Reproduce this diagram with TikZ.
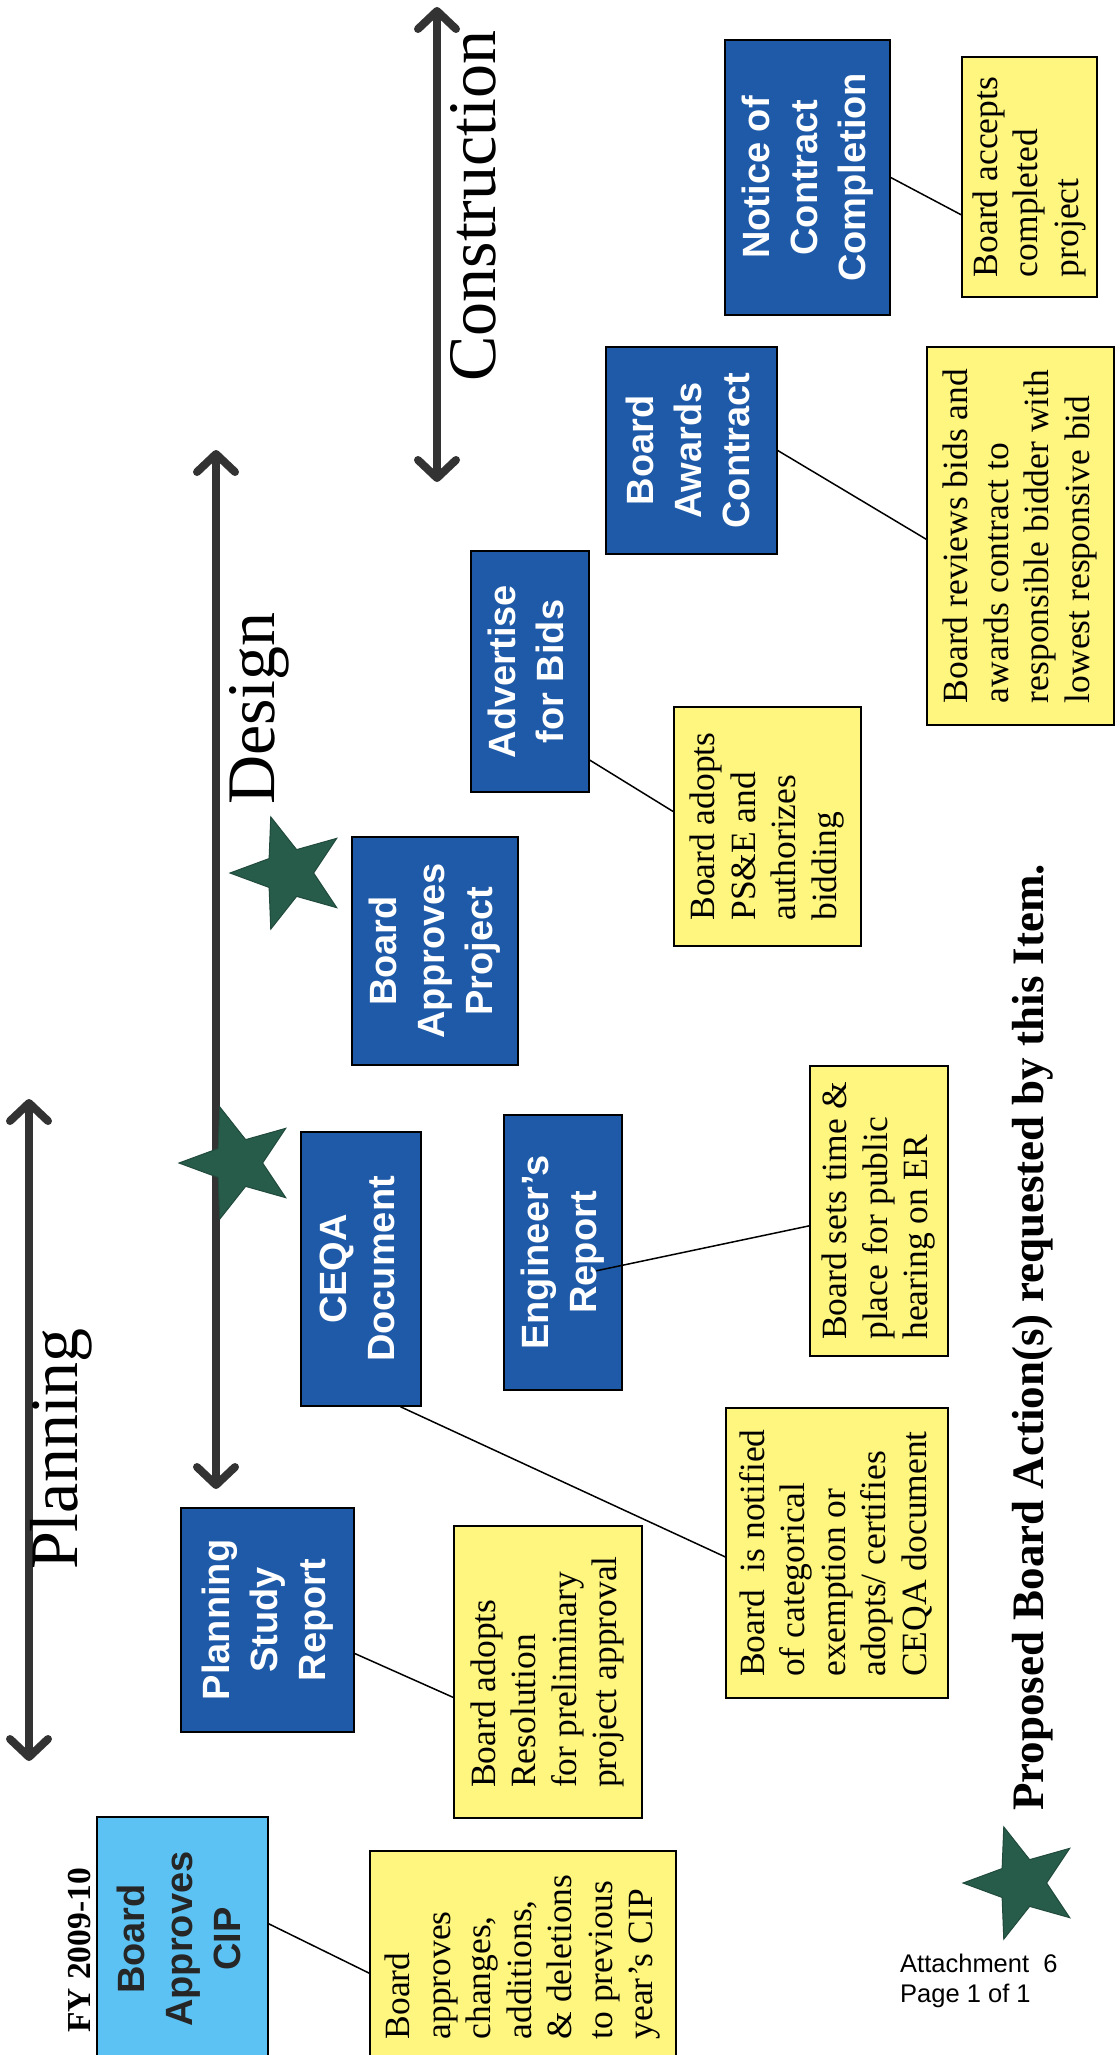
\documentclass[tikz,border=0pt]{standalone}
\usepackage{fontspec}
\setmainfont{Liberation Serif}
\newfontfamily\boxfont{Liberation Sans}
\usepackage{graphicx}
\usetikzlibrary{arrows.meta,shapes.geometric}

\definecolor{boxblue}{RGB}{30,90,168}
\definecolor{cipblue}{RGB}{92,194,244}
\definecolor{noteyellow}{RGB}{255,246,128}
\definecolor{stargreen}{RGB}{40,92,74}
\definecolor{shaftgray}{RGB}{51,51,51}

\newcommand{\vlines}[1]{\rotatebox{90}{\begin{tabular}{@{}c@{}}#1\end{tabular}}}
\newcommand{\vnote}[1]{\rotatebox{90}{\begin{tabular}{@{}l@{}}#1\end{tabular}}}

\tikzset{
  stagebox/.style={draw=black, line width=1.5pt, fill=boxblue, text=white, inner sep=0pt,
    font=\boxfont\bfseries\fontsize{38}{48}\selectfont},
  notebox/.style={draw=black, line width=1.5pt, fill=noteyellow, inner sep=0pt,
    font=\fontsize{35.5}{40.5}\selectfont},
  phase/.style={draw=shaftgray, line width=8pt,
    {Straight Barb[length=18pt,width=38pt,line cap=round,line join=round]}-{Straight Barb[length=18pt,width=38pt,line cap=round,line join=round]}},
  phaselabel/.style={rotate=90, anchor=base west, inner sep=0pt, font=\fontsize{68}{80}\selectfont},
  action/.style={star, star points=5, star point ratio=2.4, shape border rotate=90,
    fill=stargreen, draw=stargreen!80!black, line width=1pt, minimum size=118pt, inner sep=0pt},
  link/.style={line width=1.5pt}
}

\begin{document}
\begin{tikzpicture}[x=1pt, y=-1pt]

  \useasboundingbox[fill=white] (0,0) rectangle (1119,2055);

  \coordinate (build end) at (437,7);
  \coordinate (build start) at (437,482);
  \coordinate (design end) at (216,450);
  \coordinate (design start) at (216,1489);
  \coordinate (plan end) at (29,1099);
  \coordinate (plan start) at (29,1761);

  \draw[phase] (build start) -- (build end);
  \draw[phase] (design start) -- (design end);
  \draw[phase] (plan start) -- (plan end);

  \node[phaselabel] (lbl build) at (495,382) {Construction};
  \node[phaselabel] (lbl design) at (274,805) {Design};
  \node[phaselabel] (lbl plan) at (77,1570) {Planning};

  \node[action] (star approve) at (289,873) {};
  \node[action] (star ceqa) at (238,1163) {};

  \node[stagebox, minimum width=165pt, minimum height=275pt] (notice) at (807.5,177.5)
    {\vlines{Notice of\\Contract\\Completion}};
  \node[stagebox, minimum width=171pt, minimum height=207pt] (awards) at (691.5,450.5)
    {\vlines{Board\\Awards\\Contract}};
  \node[stagebox, minimum width=118pt, minimum height=241pt] (advertise) at (530,671.5)
    {\vlines{Advertise\\for Bids}};
  \node[stagebox, minimum width=166pt, minimum height=228pt] (approves) at (435,951)
    {\vlines{Board\\Approves\\Project}};
  \node[stagebox, minimum width=120pt, minimum height=274pt] (ceqa) at (361,1269)
    {\vlines{CEQA\\Document}};
  \node[stagebox, minimum width=118pt, minimum height=275pt] (engineer) at (563,1252.5)
    {\vlines{Engineer’s\\Report}};
  \node[stagebox, minimum width=173pt, minimum height=224pt] (study) at (267.5,1620)
    {\vlines{Planning\\Study\\Report}};
  \node[stagebox, fill=cipblue, text=black!85, minimum width=171pt, minimum height=244pt] (cip) at (182.5,1939)
    {\vlines{Board\\Approves\\CIP}};

  \node[notebox, minimum width=135pt, minimum height=240pt] (accepts) at (1029.5,177)
    {\vnote{Board accepts\\completed\\project}};
  \node[notebox, minimum width=187pt, minimum height=378pt] (reviews) at (1020.5,536)
    {\vnote{Board reviews bids and\\awards contract to\\responsible bidder with\\lowest responsive bid}};
  \node[notebox, minimum width=187pt, minimum height=239pt] (pse) at (767.5,826.5)
    {\vnote{Board adopts\\PS\&E and\\authorizes\\bidding}};
  \node[notebox, minimum width=138pt, minimum height=290pt] (setstime) at (879,1211)
    {\vnote{Board sets time \&\\place for public\\hearing on ER}};
  \node[notebox, minimum width=222pt, minimum height=290pt] (notified) at (837,1553)
    {\vnote{Board\ \ is notified\\of categorical\\exemption or\\adopts/ certifies\\CEQA document}};
  \node[notebox, minimum width=188pt, minimum height=292pt] (resolution) at (548,1672)
    {\vnote{Board adopts\\Resolution\\for preliminary\\project approval}};
  \node[notebox, minimum width=306pt, minimum height=212pt] (changes) at (523,1957)
    {\vnote{Board\\approves\\changes,\\additions,\\\& deletions\\to previous\\year’s CIP}};

  \draw[link] (notice.east) -- (accepts.209);
  \draw[link] (awards.east) -- (reviews.182);
  \draw[link] (advertise.-56) -- (pse.171);
  \draw[link, shorten <=-27pt] (engineer.-12) -- (setstime.192);
  \draw[link] (ceqa.-74) -- (notified.182);
  \draw[link] (study.-21) -- (resolution.195);
  \draw[link] (cip.10) -- (changes.186);

  \node[rotate=90, anchor=base west, inner sep=0pt, font=\bfseries\fontsize{33.5}{40}\selectfont]
    (fy) at (90,2033) {FY 2009-10};

  \node[action] (star key) at (1022,1883) {};
  \node[rotate=90, anchor=base west, inner sep=0pt, font=\bfseries\fontsize{45}{54}\selectfont]
    (key) at (1043,1811) {Proposed Board Action(s) requested by this Item.};

  \node[anchor=north west, align=left, inner sep=0pt, font=\boxfont\fontsize{25.5}{29.5}\selectfont]
    (attach) at (900,1954) {Attachment\ \ 6\\Page 1 of 1};

\end{tikzpicture}
\end{document}
